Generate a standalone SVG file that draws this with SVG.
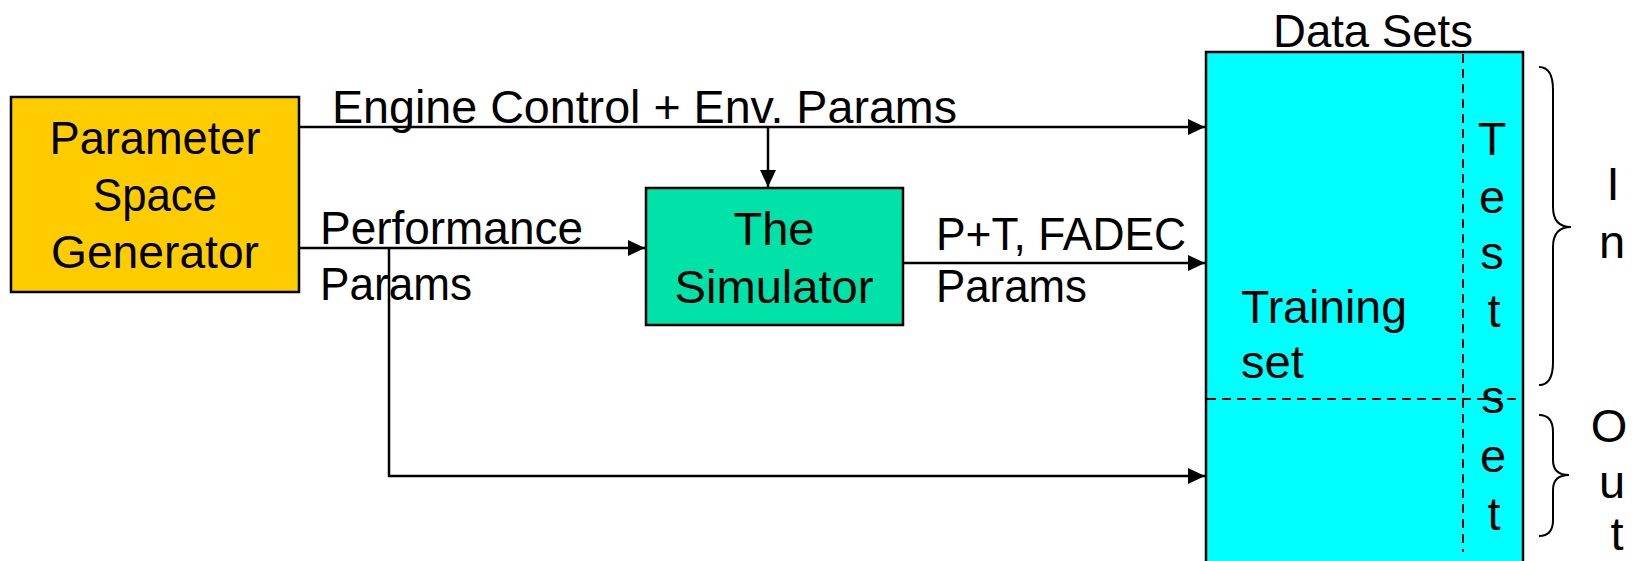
<svg xmlns="http://www.w3.org/2000/svg" width="1636" height="561" viewBox="0 0 1636 561">
<style>
text{font-family:"Liberation Sans",Arial,sans-serif;font-size:47px;fill:#000}
.box{stroke:#000;stroke-width:2.5}
.ln{fill:none;stroke:#000;stroke-width:2.5}
.dash{fill:none;stroke:#000;stroke-width:2;stroke-dasharray:9 6}
.brace{fill:none;stroke:#000;stroke-width:2}
.c{text-anchor:middle}
</style>
<defs>
<marker id="arr" markerUnits="userSpaceOnUse" markerWidth="18" markerHeight="18" viewBox="0 0 18 18" refX="17" refY="9" orient="auto">
<path d="M0,1 L17,9 L0,17 Z" fill="#000"/>
</marker>
</defs>
<rect width="1636" height="561" fill="#fff"/>

<g id="datasets">
<rect class="box" x="1206" y="52" width="317" height="530" fill="#00FFFF"/>
<path class="dash" d="M1463,54 L1463,552"/>
<path class="dash" d="M1207,399 L1522,399"/>
<text x="1273" y="47" textLength="200" lengthAdjust="spacingAndGlyphs">Data Sets</text>
<text x="1241" y="323" textLength="166" lengthAdjust="spacingAndGlyphs">Training</text>
<text x="1241" y="378" textLength="63" lengthAdjust="spacingAndGlyphs">set</text>
<g class="c">
<text x="1492" y="155">T</text>
<text x="1492" y="213">e</text>
<text x="1492" y="269">s</text>
<text x="1494" y="327">t</text>
<text x="1493" y="413">s</text>
<text x="1493" y="472">e</text>
<text x="1494" y="530">t</text>
</g>
</g>

<g id="in-brace">
<path class="brace" d="M1539,67 Q1553,67 1553,90 L1553,207 Q1553,227 1571,227 Q1553,227 1553,247 L1553,362 Q1553,385 1539,385"/>
<text class="c" x="1613" y="200">I</text>
<text class="c" x="1612" y="258">n</text>
</g>
<g id="out-brace">
<path class="brace" d="M1539,415 Q1553,415 1553,432 L1553,460 Q1553,475 1569,475 Q1553,475 1553,490 L1553,520 Q1553,536 1539,536"/>
<text class="c" x="1609" y="442">O</text>
<text class="c" x="1612" y="498">u</text>
<text class="c" x="1617" y="550">t</text>
</g>

<g id="psg">
<rect class="box" x="11" y="97" width="288" height="195" fill="#FFCC00"/>
<text class="c" x="155" y="154" textLength="211" lengthAdjust="spacingAndGlyphs">Parameter</text>
<text class="c" x="155" y="211" textLength="124" lengthAdjust="spacingAndGlyphs">Space</text>
<text class="c" x="155" y="268" textLength="208" lengthAdjust="spacingAndGlyphs">Generator</text>
</g>

<g id="simulator">
<rect class="box" x="646" y="188" width="257" height="137" fill="#00E2A8"/>
<text class="c" x="774" y="245">The</text>
<text class="c" x="774" y="303" textLength="199" lengthAdjust="spacingAndGlyphs">Simulator</text>
</g>

<g id="connectors">
<path class="ln" d="M299,127 L1205,127" marker-end="url(#arr)"/>
<path class="ln" d="M768,127 L768,187" marker-end="url(#arr)"/>
<path class="ln" d="M299,248 L645,248" marker-end="url(#arr)"/>
<path class="ln" d="M389,248 L389,476 L1205,476" marker-end="url(#arr)"/>
<path class="ln" d="M903,263 L1205,263" marker-end="url(#arr)"/>
<text x="332" y="123" textLength="625" lengthAdjust="spacingAndGlyphs">Engine Control + Env. Params</text>
<text x="320" y="244" textLength="263" lengthAdjust="spacingAndGlyphs">Performance</text>
<text x="320" y="300" textLength="152" lengthAdjust="spacingAndGlyphs">Params</text>
<text x="936" y="250" textLength="250" lengthAdjust="spacingAndGlyphs">P+T, FADEC</text>
<text x="936" y="302" textLength="151" lengthAdjust="spacingAndGlyphs">Params</text>
</g>
</svg>
